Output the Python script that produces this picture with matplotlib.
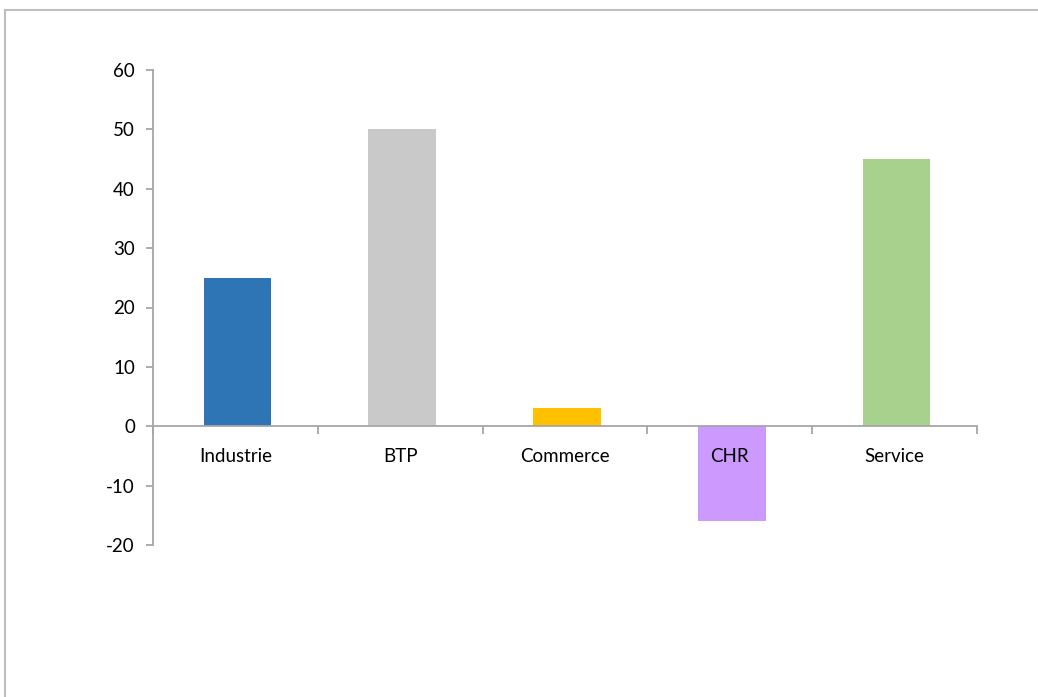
import matplotlib
matplotlib.use("Agg")
import matplotlib.pyplot as plt
from matplotlib.lines import Line2D
import numpy as np

categories = ["Industrie", "BTP", "Commerce", "CHR", "Service"]
values = [25, 50, 3, -16, 45]
colors = ["#2E75B6", "#C9C9C9", "#FFC000", "#CC99FF", "#A9D18E"]
yticks = [-20, -10, 0, 10, 20, 30, 40, 50, 60]

plt.rcParams['font.family'] = ['Lato', 'DejaVu Sans']

fig = plt.figure(figsize=(10.38, 6.97), dpi=100)
ax = fig.add_axes([153/1038, 1-545/697, (977-153)/1038, (545-70)/697])

x = np.arange(len(categories))
ax.bar(x + 0.012, values, width=0.41, color=colors, zorder=1)

ax.set_xlim(-0.5, len(categories) - 0.5)
ax.set_ylim(-20, 60)
ax.set_yticks(yticks)
ax.set_yticklabels([str(v) for v in yticks], fontsize=13.5)

ax.spines['top'].set_visible(False)
ax.spines['right'].set_visible(False)
ax.spines['bottom'].set_position(('data', 0))
ax.spines['bottom'].set_color('#A6A6A6')
ax.spines['left'].set_color('#A6A6A6')
ax.spines['bottom'].set_linewidth(1.3)
ax.spines['left'].set_linewidth(1.3)
ax.spines['bottom'].set_zorder(3)

ax.set_xticks(x)
ax.set_xticklabels(categories, fontsize=13.5)
ax.set_xticks(np.arange(-0.5, len(categories)), minor=True)
ax.tick_params(axis='x', which='major', length=0, pad=16)
ax.tick_params(axis='x', which='minor', length=6, width=1.3, color='#A6A6A6', direction='out')
ax.tick_params(axis='y', length=5, width=1.3, color='#A6A6A6', pad=8)

# outer chart border (top and left visible)
fig.add_artist(Line2D([5/1038, 5/1038], [0, 1-10/697], transform=fig.transFigure, color='#BFBFBF', lw=1.5))
fig.add_artist(Line2D([5/1038, 1], [1-10/697, 1-10/697], transform=fig.transFigure, color='#BFBFBF', lw=1.5))

fig.savefig("out.png", dpi=100)
